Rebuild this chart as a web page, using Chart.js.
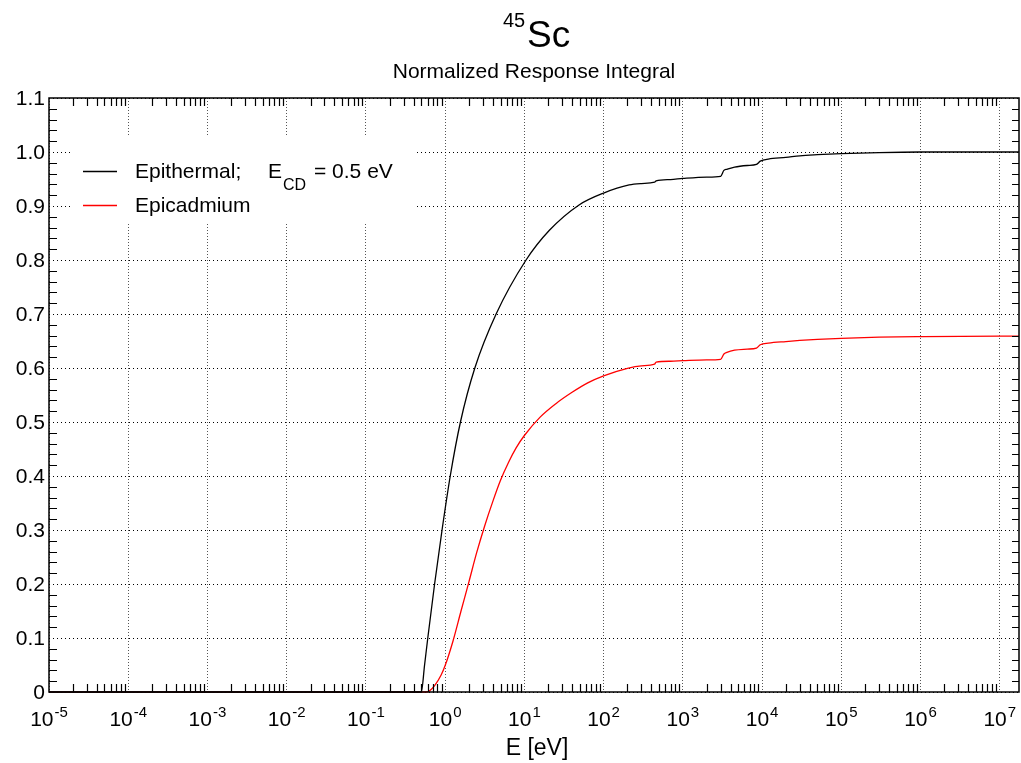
<!DOCTYPE html>
<html>
<head>
<meta charset="utf-8">
<script src="https://cdn.jsdelivr.net/npm/chart.js@4"></script>
<style>
  body { margin: 0; background: #fff; }
  #wrap { width: 1021px; height: 763px; position: relative; }
</style>
</head>
<body>
<div id="wrap"><canvas id="chart"></canvas></div>
<script>
// energies in eV, one list per curve
const energyEpi = [1e-5, 0.5, 0.55, 0.604, 0.736, 0.914, 1.16, 1.56, 2.37, 4.4, 10.5, 20.7, 49, 100, 210, 300, 440, 460, 700, 1000,
    2000, 3000, 3300, 3600, 4500, 6500, 8500, 9500, 1.2e4, 2e4, 3e4, 5e4, 1e5, 3e5, 1e6, 1e7, 1.75e7];
const epithermal = [0, 0, 0.05, 0.1, 0.2, 0.3, 0.4, 0.5, 0.6, 0.7, 0.8, 0.855, 0.902, 0.924, 0.939, 0.9415, 0.944, 0.9465, 0.949, 0.951,
    0.9535, 0.955, 0.966, 0.968, 0.972, 0.975, 0.977, 0.983, 0.987, 0.990, 0.993, 0.995, 0.997, 0.999, 1.0, 1.0, 1.0];

const energyCd = [1e-5, 0.575, 0.63, 0.74, 0.89, 1.0, 1.26, 1.58, 2.0, 2.5, 3.16, 4.0, 5.0, 6.3, 7.9, 10, 15.8, 25, 40, 63, 100,
    200, 300, 440, 460, 700, 1000, 2000, 3000, 3300, 3600, 4500, 6500, 8500, 9500, 1.2e4, 2e4, 3e4, 5e4, 1e5, 3e5, 1e6, 1e7, 1.75e7];
const epicadmium = [0, 0, 0.0016, 0.0123, 0.0315, 0.049, 0.095, 0.149, 0.2045, 0.258, 0.308, 0.353, 0.392, 0.425, 0.4525, 0.475, 0.509, 0.534, 0.555, 0.5725, 0.5855,
    0.5995, 0.604, 0.607, 0.611, 0.6125, 0.6135, 0.615, 0.616, 0.626, 0.629, 0.633, 0.635, 0.637, 0.643, 0.646, 0.649, 0.651, 0.653, 0.655, 0.657, 0.658, 0.659, 0.659];

const decadeExps = [-5, -4, -3, -2, -1, 0, 1, 2, 3, 4, 5, 6, 7];
const yTickLabels = ['0', '0.1', '0.2', '0.3', '0.4', '0.5', '0.6', '0.7', '0.8', '0.9', '1.0', '1.1'];
const seriesNames = ['Epithermal;', 'Epicadmium'];

const xMin = 1e-5;
const xMax = 1.75e7;
const FONT = 'Liberation Sans, Arial, Helvetica, sans-serif';

function toPoints(es, vals) {
    return es.map((e, i) => ({ x: e, y: vals[i] }));
}

const decorPlugin = {
    id: 'decor',
    afterDraw(chart) {
        const ctx = chart.ctx;
        const area = chart.chartArea;
        const xs = chart.scales.x;
        const ys = chart.scales.y;
        ctx.save();

        // legend box
        ctx.fillStyle = '#fff';
        ctx.fillRect(70, 137, 344, 87);
        ctx.lineWidth = 1.3;
        ctx.strokeStyle = '#000';
        ctx.beginPath(); ctx.moveTo(83, 171.5); ctx.lineTo(117, 171.5); ctx.stroke();
        ctx.strokeStyle = '#ff0000';
        ctx.beginPath(); ctx.moveTo(83, 205.5); ctx.lineTo(117, 205.5); ctx.stroke();
        ctx.fillStyle = '#000';
        ctx.textBaseline = 'alphabetic';
        ctx.textAlign = 'left';
        ctx.font = '21px ' + FONT;
        ctx.fillText(seriesNames[0], 135, 178);
        ctx.fillText('E', 268, 178);
        ctx.fillText('= 0.5 eV', 314, 178);
        ctx.fillText(seriesNames[1], 135, 212);
        ctx.font = '16px ' + FONT;
        ctx.fillText('CD', 283, 190);

        // frame
        ctx.strokeStyle = '#000';
        ctx.lineWidth = 1.5;
        ctx.strokeRect(area.left, area.top, area.right - area.left, area.bottom - area.top);

        // minor ticks, inward
        ctx.lineWidth = 1.2;
        ctx.beginPath();
        for (const n of decadeExps) {
            for (let m = 2; m <= 9; m++) {
                const v = m * Math.pow(10, n);
                if (v > xMax) continue;
                const px = Math.round(xs.getPixelForValue(v)) + 0.5;
                ctx.moveTo(px, area.top); ctx.lineTo(px, area.top + 8);
                ctx.moveTo(px, area.bottom); ctx.lineTo(px, area.bottom - 8);
            }
        }
        for (let k = 1; k < 55; k++) {
            if (k % 5 === 0) continue;
            const py = Math.round(ys.getPixelForValue(k * 0.02)) + 0.5;
            ctx.moveTo(area.left, py); ctx.lineTo(area.left + 8, py);
            ctx.moveTo(area.right, py); ctx.lineTo(area.right - 7, py);
        }
        ctx.stroke();

        // y tick labels
        ctx.fillStyle = '#000';
        ctx.font = '21px ' + FONT;
        ctx.textAlign = 'right';
        ctx.textBaseline = 'middle';
        yTickLabels.forEach((t, i) => {
            ctx.fillText(t, area.left - 4, ys.getPixelForValue(i * 0.1) + 1);
        });

        // x tick labels 10^n
        ctx.textAlign = 'left';
        ctx.textBaseline = 'alphabetic';
        for (const n of decadeExps) {
            const px = xs.getPixelForValue(Math.pow(10, n));
            ctx.font = '21px ' + FONT;
            const wBase = ctx.measureText('10').width;
            ctx.font = '15px ' + FONT;
            const exp = n < 0 ? '-' + (-n) : String(n);
            const wExp = ctx.measureText(exp).width;
            const x0 = px - (wBase + 1 + wExp) / 2;
            ctx.font = '21px ' + FONT;
            ctx.fillText('10', x0, 726);
            ctx.font = '15px ' + FONT;
            ctx.fillText(exp, x0 + wBase + 1, 717);
        }

        // axis title
        ctx.font = '23px ' + FONT;
        ctx.textAlign = 'center';
        ctx.fillText('E [eV]', 537, 755);

        // titles
        ctx.font = '21px ' + FONT;
        ctx.fillText('Normalized Response Integral', 534, 78);
        ctx.textAlign = 'left';
        ctx.font = '20px ' + FONT;
        ctx.fillText('45', 503, 27);
        ctx.font = '37px ' + FONT;
        ctx.fillText('Sc', 527, 47);

        ctx.restore();
    }
};

new Chart(document.getElementById('chart'), {
    type: 'line',
    data: {
        datasets: [{
            label: seriesNames[0],
            data: toPoints(energyEpi, epithermal),
            borderColor: '#000000',
            borderWidth: 1.3,
            pointRadius: 0,
            cubicInterpolationMode: 'monotone',
            clip: 4
        }, {
            label: seriesNames[1],
            data: toPoints(energyCd, epicadmium),
            borderColor: '#ff0000',
            borderWidth: 1.3,
            pointRadius: 0,
            cubicInterpolationMode: 'monotone',
            clip: 4
        }]
    },
    options: {
        responsive: true,
        maintainAspectRatio: false,
        animation: false,
        layout: { padding: { left: 49, right: 2, top: 98, bottom: 71 } },
        plugins: {
            legend: { display: false },
            tooltip: { enabled: false },
            title: { display: false }
        },
        scales: {
            x: {
                type: 'logarithmic',
                min: xMin,
                max: xMax,
                afterBuildTicks: (s) => {
                    s.ticks = decadeExps.map(n => ({ value: Math.pow(10, n) }));
                },
                afterFit: (s) => { s.height = 0; },
                ticks: { display: false },
                grid: { color: '#555', lineWidth: 1, drawTicks: false },
                border: { display: false, dash: [1, 2] }
            },
            y: {
                type: 'linear',
                min: 0,
                max: 1.1,
                ticks: { display: false, stepSize: 0.1 },
                afterFit: (s) => { s.width = 0; },
                grid: { color: '#000', lineWidth: 1, drawTicks: false },
                border: { display: false, dash: [1, 3] }
            }
        }
    },
    plugins: [decorPlugin]
});
</script>
</body>
</html>
